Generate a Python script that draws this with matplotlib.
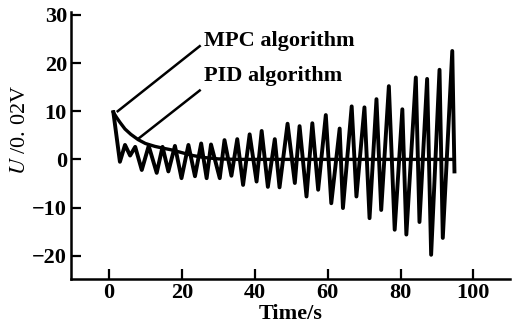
import matplotlib
matplotlib.use("Agg")
import matplotlib.pyplot as plt

# MPC response: smooth decay then flat at zero
mpc_t = [1.2, 2.0, 3.0, 4.4, 6.0, 8.0, 10.0, 12.6, 15.0, 17.0, 20.0, 23.0, 26.0, 30.0, 35.0, 94.5]
mpc_u = [9.8, 8.8, 7.7, 6.3, 5.2, 4.1, 3.3, 2.7, 2.3, 2.0, 1.4, 0.8, 0.4, 0.1, 0.0, 0.0]

# PID response: peaks and troughs
pid_t = [1.2, 3.0, 4.4, 5.8, 7.2, 9.0, 10.9, 13.1, 14.7, 16.3, 18.1, 19.9, 21.8, 23.6,
         25.3, 26.8, 28.0, 30.4, 31.7, 33.6, 35.2, 36.8, 38.6, 40.5, 41.9, 43.6, 45.5,
         46.8, 49.0, 51.0, 52.3, 54.2, 55.8, 57.4, 59.5, 61.0, 63.3, 64.2, 66.6, 67.9,
         70.1, 71.5, 73.4, 74.7, 76.8, 78.4, 80.5, 81.6, 84.2, 85.2, 87.3, 88.4, 90.7,
         91.6, 94.2, 94.8]
pid_u = [9.8, -0.5, 3.0, 0.8, 2.6, -2.2, 2.8, -2.8, 2.6, -2.5, 2.8, -3.9, 3.0, -3.5,
         3.3, -3.9, 3.1, -3.9, 4.0, -3.4, 4.2, -5.3, 5.2, -4.6, 5.9, -5.7, 4.2,
         -5.8, 7.4, -4.9, 6.9, -7.7, 7.5, -6.3, 9.2, -9.1, 6.4, -10.1, 11.0, -7.7,
         10.8, -12.2, 12.5, -10.5, 15.2, -14.6, 10.4, -15.6, 17.0, -13.0, 16.7, -19.8, 18.6,
         -16.3, 22.5, -2.5]

x_ticks = [0, 20, 40, 60, 80, 100]
y_ticks = [-20, -10, 0, 10, 20, 30]

serif = "Liberation Serif"
plt.rcParams["mathtext.fontset"] = "stix"


def draw_plot():
    fig = plt.figure(figsize=(5.15, 3.32), dpi=100)
    ax = fig.add_axes([0.138, 0.160, 0.852, 0.804])

    ax.plot(pid_t, pid_u, color="black", lw=2.8, solid_joinstyle="round")
    ax.plot(mpc_t, mpc_u, color="black", lw=2.4)

    # leader lines + labels
    ax.plot([2.4, 24.9], [10.0, 23.5], color="black", lw=1.8)
    ax.plot([7.9, 24.9], [4.2, 14.3], color="black", lw=1.8)
    ax.text(26.0, 24.6, "MPC algorithm", fontsize=16, fontweight="bold",
            family=serif, va="center", ha="left")
    ax.text(26.0, 17.4, "PID algorithm", fontsize=16, fontweight="bold",
            family=serif, va="center", ha="left")

    ax.set_xlim(-10.4, 110)
    ax.set_ylim(-24.8, 30.6)
    ax.set_xticks(x_ticks)
    ax.set_yticks(y_ticks)
    for lab in ax.get_xticklabels() + ax.get_yticklabels():
        lab.set_family(serif)
        lab.set_fontweight("bold")
        lab.set_fontsize(16)
    ax.tick_params(direction="in", length=7, width=1.6, pad=3)

    for s in ["top", "right"]:
        ax.spines[s].set_visible(False)
    for s in ["left", "bottom"]:
        ax.spines[s].set_linewidth(1.8)

    ax.set_xlabel("Time/s", family=serif, fontweight="bold", fontsize=16, labelpad=1)
    ax.set_ylabel(r"$U$ /0. 02V", family=serif, fontsize=16)
    ax.yaxis.set_label_coords(-0.093, 0.558)

    fig.savefig("out.png", dpi=100)


if __name__ == "__main__":
    draw_plot()
